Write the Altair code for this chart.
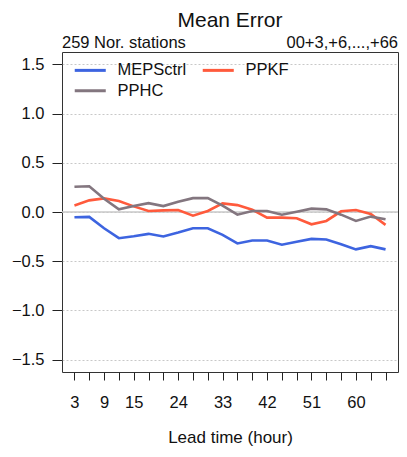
import altair as alt
import pandas as pd

hours = list(range(3, 67, 3))
mepsctrl = [-0.054, -0.05, -0.165, -0.266, -0.246, -0.222, -0.249, -0.209, -0.165, -0.165, -0.232,
            -0.32, -0.29, -0.29, -0.333, -0.303, -0.273, -0.28, -0.327, -0.38, -0.347, -0.38]
pphc = [0.256, 0.262, 0.135, 0.027, 0.06, 0.09, 0.06, 0.104, 0.141, 0.141, 0.064,
        -0.027, 0.01, 0.01, -0.027, 0.003, 0.034, 0.027, -0.027, -0.091, -0.047, -0.074]
ppkf = [0.067, 0.118, 0.138, 0.111, 0.057, 0.01, 0.017, 0.02, -0.037, 0.01, 0.087,
        0.07, 0.024, -0.057, -0.057, -0.064, -0.125, -0.091, 0.007, 0.02, -0.02, -0.131]
series_names = ["MEPSctrl", "PPKF", "PPHC"]
legend_order = ["MEPSctrl", "PPHC", "PPKF"]
series_colors = ["#3d64e0", "#ff5a3c", "#83767f"]
y_ticks = [-1.5, -1.0, -0.5, 0.0, 0.5, 1.0, 1.5]
x_labels = [3, 9, 15, 24, 33, 42, 51, 60]

rows = []
for name, vals in zip(series_names, [mepsctrl, ppkf, pphc]):
    for h, v in zip(hours, vals):
        rows.append({"hour": h, "value": v, "model": name})
df = pd.DataFrame(rows)

FONT = "Liberation Sans"
FS = 16.5

xscale = alt.Scale(domain=[0.48, 68.52], nice=False, zero=False)
yscale = alt.Scale(domain=[-1.626, 1.626], nice=False, zero=False)

label_expr = "indexof([" + ",".join(str(v) for v in x_labels) + "], datum.value) >= 0 ? datum.label : ''"

lines = alt.Chart(df).mark_line(strokeWidth=2.6).encode(
    x=alt.X("hour:Q", scale=xscale,
            axis=alt.Axis(values=hours, labelExpr=label_expr, title="Lead time (hour)",
                          grid=False, domain=False, tickSize=8, tickColor="#222",
                          labelPadding=14, titlePadding=19, labelFlush=False,
                          labelFont=FONT, titleFont=FONT, labelFontSize=FS, titleFontSize=17,
                          labelColor="#111", titleColor="#111", titleFontWeight="normal")),
    y=alt.Y("value:Q", scale=yscale,
            axis=alt.Axis(values=y_ticks, format=".1f", title=None, grid=True,
                          gridDash=[2, 2], gridColor="#c8c8c8", domain=False,
                          tickSize=10, tickColor="#222", labelPadding=8,
                          labelFont=FONT, labelFontSize=FS, labelColor="#111")),
    color=alt.Color("model:N",
                    scale=alt.Scale(domain=series_names, range=series_colors),
                    legend=alt.Legend(title=None, orient="none", legendX=20, legendY=10,
                                      columns=2, values=legend_order,
                                      symbolType="M-3,0H3", symbolSize=107,
                                      symbolStrokeWidth=3, labelFontSize=FS, labelFont=FONT,
                                      labelColor="#111", labelOffset=19, columnPadding=9,
                                      rowPadding=3.5)),
    order="hour:Q",
)

zero = alt.Chart(pd.DataFrame({"z": [0.0]})).mark_rule(color="#c8c8c8", strokeWidth=1.5).encode(
    y=alt.Y("z:Q", scale=yscale)
)

left_txt = alt.Chart(pd.DataFrame({"t": ["259 Nor. stations"]})).mark_text(
    align="left", baseline="alphabetic", fontSize=FS, font=FONT, color="#111",
    x=0, y=-4
).encode(text="t:N")

right_txt = alt.Chart(pd.DataFrame({"t": ["00+3,+6,...,+66"]})).mark_text(
    align="right", baseline="alphabetic", fontSize=FS, font=FONT, color="#111",
    x={"expr": "width"}, y=-4
).encode(text="t:N")

title_txt = alt.Chart(pd.DataFrame({"t": ["Mean Error"]})).mark_text(
    align="center", baseline="alphabetic", fontSize=21, font=FONT, color="#111",
    x={"expr": "width / 2"}, y=-25
).encode(text="t:N")

chart = alt.layer(zero, lines, left_txt, right_txt, title_txt).properties(
    width=391, height=438,
    autosize=alt.AutoSizeParams(type="fit", contains="padding"),
    padding={"left": 3, "top": 2, "right": 0, "bottom": 0},
    background="white",
).configure_view(stroke="#333", strokeWidth=1)

chart.save("out.html", embed_options={"renderer": "svg", "actions": False})
